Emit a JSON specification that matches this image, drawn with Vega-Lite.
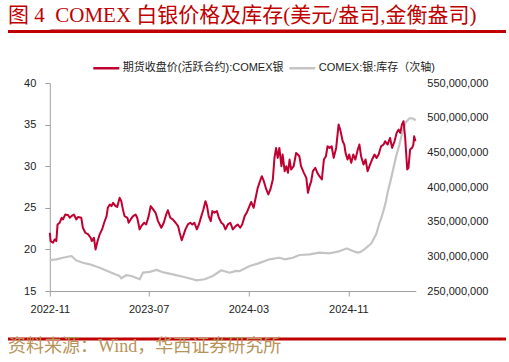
{
  "$schema": "https://vega.github.io/schema/vega-lite/v6.json",
  "background": "white",
  "padding": {"left": 5, "right": 6, "top": 5, "bottom": 3},
  "spacing": 23.5,
  "bounds": "full",
  "resolve": {"scale": {"color": "independent"}, "legend": {"color": "independent"}},
  "datasets": {
    "bar": [{"x0": 0, "x1": 1, "y0": 0, "y1": 1}],
    "price": [
      {"date": "2022-11-01", "price": 22.0}, {"date": "2022-11-03", "price": 21.0}, {"date": "2022-11-09", "price": 20.8}, {"date": "2022-11-13", "price": 21.2}, {"date": "2022-11-17", "price": 21.0}, {"date": "2022-11-20", "price": 23.0}, {"date": "2022-11-25", "price": 23.2}, {"date": "2022-11-30", "price": 23.8}, {"date": "2022-12-03", "price": 23.6}, {"date": "2022-12-09", "price": 24.2}, {"date": "2022-12-16", "price": 24.1}, {"date": "2022-12-20", "price": 23.8}, {"date": "2022-12-24", "price": 24.0}, {"date": "2022-12-30", "price": 24.2},
      {"date": "2023-01-05", "price": 23.6}, {"date": "2023-01-09", "price": 23.9}, {"date": "2023-01-17", "price": 23.8}, {"date": "2023-01-21", "price": 22.6}, {"date": "2023-01-27", "price": 22.0}, {"date": "2023-02-03", "price": 21.8}, {"date": "2023-02-09", "price": 21.4}, {"date": "2023-02-12", "price": 21.0}, {"date": "2023-02-17", "price": 21.4}, {"date": "2023-02-21", "price": 20.0}, {"date": "2023-02-26", "price": 21.0}, {"date": "2023-03-03", "price": 21.8}, {"date": "2023-03-09", "price": 22.4}, {"date": "2023-03-14", "price": 23.2}, {"date": "2023-03-20", "price": 24.0}, {"date": "2023-03-23", "price": 25.0}, {"date": "2023-03-28", "price": 25.4}, {"date": "2023-04-01", "price": 25.2}, {"date": "2023-04-05", "price": 25.6}, {"date": "2023-04-11", "price": 25.2}, {"date": "2023-04-15", "price": 25.1}, {"date": "2023-04-21", "price": 26.2}, {"date": "2023-04-25", "price": 25.8}, {"date": "2023-04-29", "price": 24.8}, {"date": "2023-05-03", "price": 24.0}, {"date": "2023-05-10", "price": 23.8}, {"date": "2023-05-13", "price": 23.2}, {"date": "2023-05-18", "price": 23.6}, {"date": "2023-05-24", "price": 24.0}, {"date": "2023-05-30", "price": 24.2}, {"date": "2023-06-03", "price": 23.8}, {"date": "2023-06-09", "price": 22.4}, {"date": "2023-06-13", "price": 22.8}, {"date": "2023-06-20", "price": 23.2}, {"date": "2023-06-25", "price": 23.0}, {"date": "2023-07-01", "price": 24.0}, {"date": "2023-07-06", "price": 25.2}, {"date": "2023-07-12", "price": 24.8}, {"date": "2023-07-18", "price": 24.4}, {"date": "2023-07-24", "price": 23.4}, {"date": "2023-08-01", "price": 22.6}, {"date": "2023-08-07", "price": 23.2}, {"date": "2023-08-13", "price": 24.2}, {"date": "2023-08-17", "price": 24.7}, {"date": "2023-08-23", "price": 23.8}, {"date": "2023-08-29", "price": 23.6}, {"date": "2023-09-05", "price": 23.2}, {"date": "2023-09-11", "price": 22.8}, {"date": "2023-09-15", "price": 22.0}, {"date": "2023-09-20", "price": 21.1}, {"date": "2023-09-25", "price": 21.8}, {"date": "2023-09-29", "price": 22.4}, {"date": "2023-10-05", "price": 23.0}, {"date": "2023-10-11", "price": 23.2}, {"date": "2023-10-16", "price": 23.0}, {"date": "2023-10-21", "price": 23.2}, {"date": "2023-10-27", "price": 22.4}, {"date": "2023-11-01", "price": 23.0}, {"date": "2023-11-07", "price": 24.0}, {"date": "2023-11-12", "price": 24.8}, {"date": "2023-11-17", "price": 25.8}, {"date": "2023-11-21", "price": 25.2}, {"date": "2023-11-25", "price": 24.0}, {"date": "2023-11-30", "price": 23.4}, {"date": "2023-12-04", "price": 24.6}, {"date": "2023-12-09", "price": 24.4}, {"date": "2023-12-15", "price": 24.6}, {"date": "2023-12-20", "price": 23.8}, {"date": "2023-12-26", "price": 23.2}, {"date": "2023-12-31", "price": 23.0},
      {"date": "2024-01-05", "price": 22.4}, {"date": "2024-01-11", "price": 23.0}, {"date": "2024-01-17", "price": 23.2}, {"date": "2024-01-23", "price": 22.4}, {"date": "2024-01-30", "price": 22.8}, {"date": "2024-02-04", "price": 23.0}, {"date": "2024-02-10", "price": 22.6}, {"date": "2024-02-15", "price": 23.0}, {"date": "2024-02-21", "price": 24.0}, {"date": "2024-02-26", "price": 24.4}, {"date": "2024-03-02", "price": 25.0}, {"date": "2024-03-08", "price": 25.7}, {"date": "2024-03-14", "price": 25.0}, {"date": "2024-03-19", "price": 26.2}, {"date": "2024-03-24", "price": 27.4}, {"date": "2024-03-31", "price": 28.4}, {"date": "2024-04-03", "price": 28.8}, {"date": "2024-04-08", "price": 28.2}, {"date": "2024-04-14", "price": 27.2}, {"date": "2024-04-19", "price": 26.6}, {"date": "2024-04-24", "price": 27.2}, {"date": "2024-04-30", "price": 28.4}, {"date": "2024-05-04", "price": 31.0}, {"date": "2024-05-08", "price": 32.2}, {"date": "2024-05-12", "price": 31.0}, {"date": "2024-05-16", "price": 32.2}, {"date": "2024-05-21", "price": 30.0}, {"date": "2024-05-24", "price": 31.4}, {"date": "2024-05-29", "price": 29.4}, {"date": "2024-06-02", "price": 30.0}, {"date": "2024-06-06", "price": 29.2}, {"date": "2024-06-10", "price": 30.8}, {"date": "2024-06-14", "price": 29.6}, {"date": "2024-06-20", "price": 30.0}, {"date": "2024-06-26", "price": 31.6}, {"date": "2024-06-30", "price": 31.4}, {"date": "2024-07-04", "price": 31.2}, {"date": "2024-07-08", "price": 30.0}, {"date": "2024-07-15", "price": 29.2}, {"date": "2024-07-21", "price": 28.6}, {"date": "2024-07-25", "price": 26.8}, {"date": "2024-07-29", "price": 27.6}, {"date": "2024-08-02", "price": 28.2}, {"date": "2024-08-06", "price": 29.4}, {"date": "2024-08-12", "price": 29.8}, {"date": "2024-08-17", "price": 29.2}, {"date": "2024-08-22", "price": 28.8}, {"date": "2024-08-28", "price": 28.4}, {"date": "2024-09-02", "price": 30.8}, {"date": "2024-09-07", "price": 31.2}, {"date": "2024-09-11", "price": 32.4}, {"date": "2024-09-16", "price": 32.2}, {"date": "2024-09-21", "price": 32.4}, {"date": "2024-09-26", "price": 31.0}, {"date": "2024-10-02", "price": 32.2}, {"date": "2024-10-08", "price": 35.0}, {"date": "2024-10-12", "price": 34.4}, {"date": "2024-10-18", "price": 33.0}, {"date": "2024-10-22", "price": 32.6}, {"date": "2024-10-25", "price": 31.6}, {"date": "2024-10-30", "price": 30.8}, {"date": "2024-11-03", "price": 31.4}, {"date": "2024-11-08", "price": 30.4}, {"date": "2024-11-13", "price": 31.4}, {"date": "2024-11-18", "price": 30.8}, {"date": "2024-11-24", "price": 32.0}, {"date": "2024-11-28", "price": 32.6}, {"date": "2024-12-02", "price": 31.2}, {"date": "2024-12-08", "price": 30.2}, {"date": "2024-12-13", "price": 30.8}, {"date": "2024-12-18", "price": 29.4}, {"date": "2024-12-24", "price": 30.2}, {"date": "2024-12-29", "price": 30.8},
      {"date": "2025-01-04", "price": 31.4}, {"date": "2025-01-09", "price": 31.0}, {"date": "2025-01-14", "price": 31.4}, {"date": "2025-01-20", "price": 32.4}, {"date": "2025-01-26", "price": 32.6}, {"date": "2025-01-30", "price": 33.0}, {"date": "2025-02-05", "price": 32.6}, {"date": "2025-02-11", "price": 33.4}, {"date": "2025-02-16", "price": 32.2}, {"date": "2025-02-22", "price": 33.0}, {"date": "2025-02-27", "price": 34.0}, {"date": "2025-03-04", "price": 34.4}, {"date": "2025-03-08", "price": 34.0}, {"date": "2025-03-12", "price": 35.0}, {"date": "2025-03-16", "price": 35.4}, {"date": "2025-03-20", "price": 33.4}, {"date": "2025-03-25", "price": 29.6}, {"date": "2025-03-28", "price": 29.8}, {"date": "2025-04-01", "price": 32.0}, {"date": "2025-04-06", "price": 32.2}, {"date": "2025-04-09", "price": 32.6}, {"date": "2025-04-11", "price": 33.6}, {"date": "2025-04-14", "price": 33.0}
    ],
    "stock": [
      {"date": "2022-11-01", "stock": 294500000}, {"date": "2022-11-17", "stock": 295700000}, {"date": "2022-12-03", "stock": 298000000}, {"date": "2022-12-24", "stock": 300500000}, {"date": "2023-01-05", "stock": 294000000}, {"date": "2023-01-09", "stock": 293300000}, {"date": "2023-01-21", "stock": 290800000}, {"date": "2023-02-07", "stock": 288500000}, {"date": "2023-02-19", "stock": 286000000}, {"date": "2023-03-03", "stock": 283600000}, {"date": "2023-04-01", "stock": 276400000}, {"date": "2023-04-21", "stock": 271600000}, {"date": "2023-04-25", "stock": 268300000}, {"date": "2023-05-08", "stock": 273000000}, {"date": "2023-05-20", "stock": 271600000}, {"date": "2023-06-09", "stock": 266900000}, {"date": "2023-06-17", "stock": 276400000}, {"date": "2023-07-03", "stock": 277500000}, {"date": "2023-07-20", "stock": 280500000}, {"date": "2023-08-09", "stock": 276400000}, {"date": "2023-08-29", "stock": 274000000}, {"date": "2023-09-23", "stock": 270500000}, {"date": "2023-10-17", "stock": 266900000}, {"date": "2023-10-26", "stock": 265400000}, {"date": "2023-11-15", "stock": 266900000}, {"date": "2023-12-05", "stock": 271600000}, {"date": "2023-12-26", "stock": 279900000}, {"date": "2024-01-15", "stock": 276400000}, {"date": "2024-01-31", "stock": 279000000}, {"date": "2024-02-09", "stock": 278800000}, {"date": "2024-02-25", "stock": 283600000}, {"date": "2024-03-04", "stock": 286000000}, {"date": "2024-03-24", "stock": 289500000}, {"date": "2024-04-22", "stock": 295700000}, {"date": "2024-05-16", "stock": 298000000}, {"date": "2024-05-29", "stock": 295700000}, {"date": "2024-06-18", "stock": 298000000}, {"date": "2024-07-04", "stock": 301900000}, {"date": "2024-07-29", "stock": 302900000}, {"date": "2024-08-22", "stock": 305300000}, {"date": "2024-09-16", "stock": 304400000}, {"date": "2024-10-06", "stock": 306700000}, {"date": "2024-10-26", "stock": 311000000}, {"date": "2024-10-30", "stock": 311000000}, {"date": "2024-11-12", "stock": 307700000}, {"date": "2024-11-24", "stock": 305300000}, {"date": "2024-12-02", "stock": 306700000}, {"date": "2024-12-10", "stock": 310100000}, {"date": "2024-12-27", "stock": 318500000}, {"date": "2025-01-08", "stock": 331700000}, {"date": "2025-01-16", "stock": 348000000}, {"date": "2025-01-21", "stock": 356000000}, {"date": "2025-01-28", "stock": 370200000}, {"date": "2025-02-01", "stock": 379800000}, {"date": "2025-02-05", "stock": 392000000}, {"date": "2025-02-13", "stock": 411000000}, {"date": "2025-02-26", "stock": 444600000}, {"date": "2025-03-06", "stock": 461500000}, {"date": "2025-03-11", "stock": 474000000}, {"date": "2025-03-16", "stock": 485000000}, {"date": "2025-03-22", "stock": 493500000}, {"date": "2025-03-30", "stock": 499000000}, {"date": "2025-04-07", "stock": 499000000}, {"date": "2025-04-15", "stock": 496200000}
    ]
  },
  "vconcat": [
    {
      "spacing": -3,
      "bounds": "full",
      "resolve": {"scale": {"color": "independent"}, "legend": {"color": "independent"}},
      "vconcat": [
        {
          "spacing": 1,
          "bounds": "full",
          "vconcat": [
            {
              "width": 498, "height": 1,
              "data": {"values": [{"r": 0}]},
              "mark": {"type": "point", "opacity": 0},
              "encoding": {},
              "view": {"stroke": null},
              "title": {"text": "图 4\u00a0\u00a0COMEX 白银价格及库存(美元/盎司,金衡盎司)", "orient": "top", "anchor": "start", "font": "Liberation Serif, Noto Sans CJK SC", "fontSize": 21, "fontWeight": "normal", "color": "#c00000", "offset": -3.5}
            },
            {
              "width": 498, "height": 3,
              "data": {"name": "bar"},
              "mark": {"type": "rect", "color": "#c00000"},
              "encoding": {
                "x": {"field": "x0", "type": "quantitative", "scale": {"domain": [0, 1], "nice": false, "zero": false}, "axis": null},
                "x2": {"field": "x1"},
                "y": {"field": "y0", "type": "quantitative", "scale": {"domain": [0, 1], "nice": false, "zero": false}, "axis": null},
                "y2": {"field": "y1"}
              },
              "view": {"stroke": null}
            }
          ]
        },
        {
          "spacing": 10.8,
          "bounds": "full",
          "resolve": {"scale": {"color": "independent"}, "legend": {"color": "independent"}},
          "hconcat": [
            {
              "width": 1, "height": 1,
              "data": {"values": [{"r": 3}]},
              "mark": {"type": "point", "opacity": 0},
              "encoding": {},
              "view": {"stroke": null}
            },
            {
              "width": 366, "height": 208,
              "view": {"stroke": null},
              "layer": [
                {
                  "data": {"name": "stock"},
                  "mark": {"type": "line", "strokeWidth": 2.2, "strokeJoin": "round"},
                  "encoding": {
                    "x": {"field": "date", "type": "temporal", "title": null,
                      "scale": {"type": "utc", "domain": [{"year": 2022, "month": 11, "date": 1, "utc": true}, {"year": 2025, "month": 4, "date": 15, "utc": true}]},
                      "axis": {"values": [{"year": 2022, "month": 11, "date": 1, "utc": true}, {"year": 2023, "month": 7, "date": 1, "utc": true}, {"year": 2024, "month": 3, "date": 1, "utc": true}, {"year": 2024, "month": 11, "date": 1, "utc": true}], "format": "%Y-%m", "labelFlush": false, "grid": false, "domainColor": "#a0a0a0", "tickColor": "#a0a0a0", "tickSize": 5, "labelPadding": 7, "labelFontSize": 11, "labelFont": "Liberation Sans, Noto Sans CJK SC", "labelColor": "#222222"}},
                    "y": {"field": "stock", "type": "quantitative", "title": null,
                      "scale": {"domain": [250000000, 550000000], "zero": false, "nice": false},
                      "axis": {"orient": "right", "values": [250000000, 300000000, 350000000, 400000000, 450000000, 500000000, 550000000], "format": ",d", "domain": false, "ticks": false, "grid": false, "labelPadding": 11, "labelFontSize": 11, "labelFont": "Liberation Sans, Noto Sans CJK SC", "labelColor": "#222222"}},
                    "color": {"datum": "COMEX:银:库存（次轴)"}
                  }
                },
                {
                  "data": {"name": "price"},
                  "mark": {"type": "line", "strokeWidth": 2, "strokeJoin": "round"},
                  "encoding": {
                    "x": {"field": "date", "type": "temporal", "title": null,
                      "axis": {"orient": "top", "offset": 52.5, "domainColor": "#c00000", "domainWidth": 3, "labels": false, "ticks": false, "grid": false}},
                    "y": {"field": "price", "type": "quantitative", "title": null,
                      "scale": {"domain": [15, 40], "zero": false, "nice": false},
                      "axis": {"orient": "left", "values": [15, 20, 25, 30, 35, 40], "grid": false, "domainColor": "#a0a0a0", "tickColor": "#a0a0a0", "tickSize": 5, "labelPadding": 9, "labelFontSize": 11, "labelFont": "Liberation Sans, Noto Sans CJK SC", "labelColor": "#222222"}},
                    "color": {"datum": "期货收盘价(活跃合约):COMEX银",
                      "scale": {"domain": ["期货收盘价(活跃合约):COMEX银", "COMEX:银:库存（次轴)"], "range": ["#c00031", "#c4c4c4"]},
                      "legend": {"orient": "none", "legendX": 42, "legendY": -29.5, "direction": "horizontal", "padding": 0, "title": null, "symbolType": "stroke", "symbolSize": 676, "symbolStrokeWidth": 2.5, "labelFont": "Liberation Sans, Noto Sans CJK SC", "labelFontSize": 11, "labelColor": "#222222", "labelOffset": 2, "columnPadding": 0, "labelLimit": 300}}
                  }
                }
              ],
              "resolve": {"scale": {"y": "independent"}, "axis": {"x": "independent"}}
            }
          ]
        }
      ]
    },
    {
      "width": 498, "height": 3,
      "data": {"name": "bar"},
      "mark": {"type": "rect", "color": "#c00000"},
      "encoding": {
        "x": {"field": "x0", "type": "quantitative", "scale": {"domain": [0, 1], "nice": false, "zero": false}, "axis": null},
        "x2": {"field": "x1"},
        "y": {"field": "y0", "type": "quantitative", "scale": {"domain": [0, 1], "nice": false, "zero": false}, "axis": null},
        "y2": {"field": "y1"}
      },
      "view": {"stroke": null},
      "title": {"text": "资料来源：Wind，华西证券研究所", "orient": "bottom", "anchor": "start", "font": "Liberation Serif, Noto Sans CJK SC", "fontSize": 18, "fontWeight": "normal", "color": "#b8935a", "offset": -3, "baseline": "top"}
    }
  ]
}
